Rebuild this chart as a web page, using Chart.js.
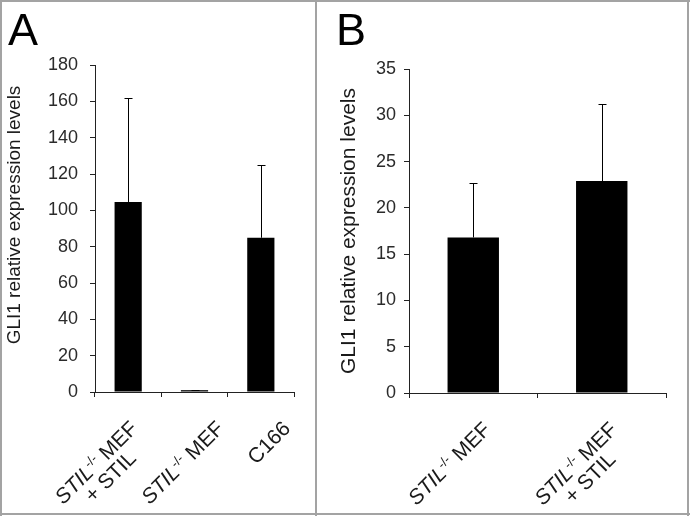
<!DOCTYPE html>
<html>
<head>
<meta charset="utf-8">
<script src="https://cdn.jsdelivr.net/npm/chart.js@4.4.1/dist/chart.umd.min.js"></script>
<style>
  html, body { margin: 0; padding: 0; background: #fff; }
  #wrap { position: relative; width: 690px; height: 516px; overflow: hidden; background: #fff; }
  canvas { position: absolute; top: 0; }
  #chartA { left: 0; }
  #chartB { left: 318px; }
  .rule { position: absolute; background: #a3a3a3; }
</style>
</head>
<body>
<div id="wrap">
  <canvas id="chartA" width="316" height="516"></canvas>
  <canvas id="chartB" width="370" height="516"></canvas>
  <div class="rule" style="left:0;top:0;width:690px;height:2px"></div>
  <div class="rule" style="left:0;top:513px;width:690px;height:2px"></div>
  <div class="rule" style="left:0;top:0;width:2px;height:516px"></div>
  <div class="rule" style="left:687px;top:0;width:2px;height:516px"></div>
  <div class="rule" style="left:315px;top:0;width:2px;height:516px"></div>
</div>
<script>
// Panel A
const categoriesA = [["STIL-/- MEF", "+ STIL"], ["STIL-/- MEF"], ["C166"]];
const valuesA = [104.6, 1.0, 84.9];
const errorsA = [57.2, 0.3, 39.9];
const yTicksA = [0, 20, 40, 60, 80, 100, 120, 140, 160, 180];

// Panel B
const categoriesB = [["STIL-/- MEF"], ["STIL-/- MEF", "+ STIL"]];
const valuesB = [16.8, 22.9];
const errorsB = [5.9, 8.3];
const yTicksB = [0, 5, 10, 15, 20, 25, 30, 35];

const yTitle = "GLI1 relative expression levels";
const FAMILY = "'Liberation Sans', Arial, sans-serif";
Chart.defaults.font.family = FAMILY;

// vertical error bars (upper side only) with a small cap
const errorBars = {
  id: "errorBars",
  afterDatasetsDraw(chart) {
    const { ctx } = chart;
    const y = chart.scales.y;
    chart.data.datasets.forEach((ds, di) => {
      chart.getDatasetMeta(di).data.forEach((bar, i) => {
        const x = Math.round(bar.x) + 0.5;
        const top = Math.round(y.getPixelForValue(ds.data[i] + ds.errors[i])) + 0.5;
        ctx.save();
        ctx.strokeStyle = "#000";
        ctx.lineWidth = 1;
        ctx.beginPath();
        ctx.moveTo(x, bar.y);
        ctx.lineTo(x, top);
        ctx.moveTo(x - 4, top);
        ctx.lineTo(x + 4, top);
        ctx.stroke();
        ctx.restore();
      });
    });
  },
};

// "STIL-/- MEF" -> italic STIL, superscript -/-, rest plain
function splitLine(line) {
  if (line.startsWith("STIL-/-")) {
    return [
      { t: "STIL", italic: true },
      { t: "-/-", sup: true },
      { t: line.slice(7) },
    ];
  }
  return [{ t: line }];
}

function segFont(seg, size) {
  if (seg.sup) return `${Math.round(size * 0.62)}px ${FAMILY}`;
  return `${seg.italic ? "italic " : ""}${size}px ${FAMILY}`;
}

function lineWidth(ctx, line, size) {
  let w = 0;
  splitLine(line).forEach((seg) => {
    ctx.font = segFont(seg, size);
    w += ctx.measureText(seg.t).width;
  });
  return w;
}

// rotated category labels drawn at the category centres of the x scale
function makeCatLabels(shift, size, lineGap, dy) {
  return {
    id: "catLabels",
    afterDraw(chart) {
      const { ctx } = chart;
      const x = chart.scales.x;
      const cap = size * 0.716;
      chart.data.labels.forEach((lab, i) => {
        const lines = Array.isArray(lab) ? lab : [lab];
        const widths = lines.map((l) => lineWidth(ctx, l, size));
        const maxW = Math.max(...widths);
        ctx.save();
        ctx.translate(x.getPixelForValue(i) + shift[i], x.top + dy);
        ctx.rotate(-Math.PI / 4);
        ctx.fillStyle = "#1a1a1a";
        ctx.textAlign = "left";
        ctx.textBaseline = "alphabetic";
        lines.forEach((l, k) => {
          let px = -(maxW + widths[k]) / 2;
          const py = cap + k * lineGap;
          splitLine(l).forEach((seg) => {
            ctx.font = segFont(seg, size);
            ctx.fillText(seg.t, px, seg.sup ? py - size * 0.36 : py);
            px += ctx.measureText(seg.t).width;
          });
        });
        ctx.restore();
      });
    },
  };
}

// panel letter and the rotated y axis title
function makeSideText(letter, lx, titleX, titleY, titleSize) {
  return {
    id: "sideText",
    afterDraw(chart) {
      const { ctx } = chart;
      ctx.save();
      ctx.fillStyle = "#000";
      ctx.font = `45px ${FAMILY}`;
      ctx.textBaseline = "alphabetic";
      ctx.fillText(letter, lx, 45);
      ctx.translate(titleX, titleY);
      ctx.rotate(-Math.PI / 2);
      ctx.font = `${titleSize}px ${FAMILY}`;
      ctx.fillStyle = "#1a1a1a";
      ctx.textAlign = "center";
      ctx.textBaseline = "middle";
      ctx.fillText(yTitle, 0, 0);
      ctx.restore();
    },
  };
}

function buildChart(canvasId, cfg) {
  const canvasElement = document.getElementById(canvasId);
  if (!canvasElement) return;
  new Chart(canvasElement.getContext("2d"), {
    type: "bar",
    data: {
      labels: cfg.labels,
      datasets: [
        {
          data: cfg.values,
          errors: cfg.errors,
          backgroundColor: "#000",
          borderColor: "#000",
          borderWidth: 0,
          barPercentage: cfg.barPct,
          categoryPercentage: 1,
        },
      ],
    },
    options: {
      responsive: false,
      animation: false,
      layout: { padding: cfg.padding },
      plugins: { legend: { display: false }, tooltip: { enabled: false } },
      scales: {
        x: {
          offset: true,
          grid: {
            offset: true,
            drawOnChartArea: false,
            drawTicks: true,
            tickLength: 5,
            color: "#222",
          },
          border: { color: "#222", width: 1 },
          ticks: { display: false },
          afterFit: (scale) => { scale.height = 10; },
        },
        y: {
          min: 0,
          max: cfg.yTicks[cfg.yTicks.length - 1],
          afterBuildTicks: (scale) => {
            scale.ticks = cfg.yTicks.map((v) => ({ value: v }));
          },
          grid: {
            drawOnChartArea: false,
            drawTicks: true,
            tickLength: 5,
            color: "#222",
          },
          border: { color: "#222", width: 1 },
          ticks: {
            color: "#2b2b2b",
            font: { size: 18 },
            padding: cfg.tickPad,
          },
          afterFit: (scale) => { scale.width = cfg.axisLeft; },
        },
      },
    },
    plugins: [
      errorBars,
      makeCatLabels(cfg.shift, 21, 20, 27),
      makeSideText(cfg.letter, cfg.letterX, cfg.titleX, cfg.titleY, cfg.titleSize),
    ],
  });
}

buildChart("chartA", {
  labels: categoriesA,
  values: valuesA,
  errors: errorsA,
  yTicks: yTicksA,
  barPct: 0.41,
  padding: { left: 0, top: 65, right: 22, bottom: 114 },
  axisLeft: 95,
  tickPad: 12,
  shift: [0, 20, 20],
  letter: "A",
  letterX: 8,
  titleX: 15,
  titleY: 215,
  titleSize: 19,
});

buildChart("chartB", {
  labels: categoriesB,
  values: valuesB,
  errors: errorsB,
  yTicks: yTicksB,
  barPct: 0.40,
  padding: { left: 0, top: 69, right: 22, bottom: 113 },
  axisLeft: 91,
  tickPad: 8,
  shift: [8, 6],
  letter: "B",
  letterX: 18,
  titleX: 31,
  titleY: 231,
  titleSize: 21,
});
</script>
</body>
</html>
